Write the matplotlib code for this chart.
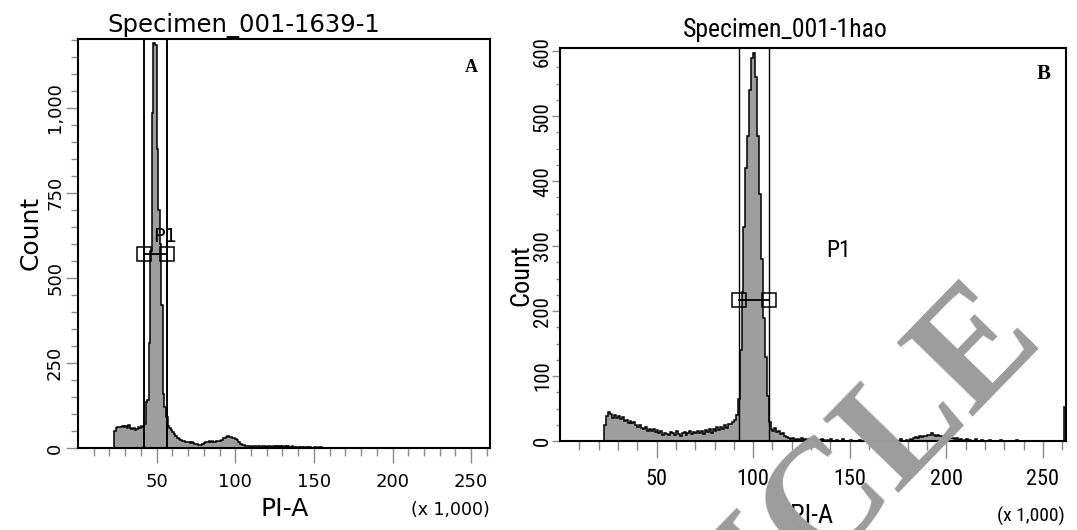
import numpy as np
import matplotlib
matplotlib.use("Agg")
import matplotlib.pyplot as plt
from matplotlib import font_manager

W, H = 1077, 530

# ---- data (counts per 1,000-unit PI-A channel) ----
a_start = 22
a_counts = [
    0, 50, 58, 62, 63, 61, 65, 63, 66, 60,          # 22-31
    68, 58, 55, 60, 52, 55, 62, 60, 65, 63,         # 32-41
    70, 136, 141, 309, 580, 985, 1190, 1185, 880, 700,  # 42-51
    600, 420, 160, 120, 90, 65, 58, 52, 48, 42,     # 52-61
    36, 30, 27, 24, 22, 20, 18, 18, 17, 16,         # 62-71
    17, 16, 13, 11, 10, 9, 9, 11, 14, 19,           # 72-81
    17, 20, 18, 21, 19, 17, 20, 22, 21, 25,         # 82-91
    28, 30, 32, 35, 31, 33, 29, 30, 27, 24,         # 92-101
    18, 12, 10, 8, 6, 7, 5, 6, 4, 7,                # 102-111
    5, 6, 5, 7, 4, 6, 5, 3, 6, 5,                   # 112-121
    6, 4, 5, 3, 6, 4, 5, 3, 5, 6,                   # 122-131
    3, 5, 2, 4, 5, 2, 3, 4, 2, 0,                   # 132-141
    3, 0, 4, 2, 0, 3, 0, 0, 2, 3,                   # 142-151
    0, 2, 3, 0,                                     # 152-155
]

b_start = 22
b_counts = [
    0, 25, 38, 45, 42, 36, 40, 35, 39, 34,          # 22-31
    37, 31, 33, 28, 31, 27, 29, 24, 22, 25,         # 32-41
    20, 18, 21, 16, 19, 15, 18, 14, 17, 12,         # 42-51
    15, 10, 13, 11, 9, 14, 12, 10, 15, 11,          # 52-61
    8, 12, 14, 9, 13, 15, 11, 14, 12, 16,           # 62-71
    13, 15, 11, 17, 14, 19, 13, 18, 16, 22,         # 72-81
    17, 21, 19, 24, 20, 26, 26, 30, 33, 40,         # 82-91
    65, 140, 230, 330, 420, 470, 540, 590, 597, 560,  # 92-101
    470, 380, 280, 190, 130, 70, 30, 18, 15, 20,    # 102-111
    14, 16, 11, 13, 7, 6, 5, 3, 4, 2,               # 112-121
    3, 3, 2, 4, 2, 3, 2, 3, 1, 2,                   # 122-131
    3, 0, 2, 3, 1, 0, 2, 0, 3, 0,                   # 132-141
    0, 2, 0, 0, 3, 0, 0, 0, 2, 0,                   # 142-151
    0, 0, 0, 2, 0, 0, 0, 0, 0, 2,                   # 152-161
    0, 0, 0, 0, 2, 0, 0, 0, 0, 0,                   # 162-171
    2, 0, 0, 0, 3, 0, 0, 2, 0, 3,                   # 172-181
    2, 4, 6, 5, 7, 6, 8, 7, 9, 10,                  # 182-191
    12, 9, 8, 10, 7, 8, 6, 7, 5, 6,                 # 192-201
    4, 5, 3, 4, 2, 3, 0, 2, 3, 0,                   # 202-211
    2, 0, 0, 3, 0, 0, 2, 0, 0, 0,                   # 212-221
    2, 0, 0, 0, 0, 0, 2, 0, 0, 0,                   # 222-231
    0, 0, 0, 0, 2, 0, 0, 0, 0, 0,                   # 232-241
    0, 0, 0, 0, 0, 0, 0, 0, 0, 0,                   # 242-251
    0, 0, 0, 0, 0, 0, 0, 0, 0, 53,                  # 252-261
]

a_gate = [42.0, 56.5]
a_bar_y = 570
b_gate = [92.6, 108.3]
b_bar_y = 217

x_ticks = [50, 100, 150, 200, 250]
a_yticks = [0, 250, 500, 750, 1000]
a_ylabels = ["0", "250", "500", "750", "1,000"]
b_yticks = [0, 100, 200, 300, 400, 500, 600]
b_ylabels = ["0", "100", "200", "300", "400", "500", "600"]

# ---- fonts: look for a condensed sans for panel B ----
flist = font_manager.fontManager.ttflist
names = {f.name for f in flist}
NARROW, STRETCH = "Roboto", "normal"
for cand in ["Liberation Sans Narrow", "Roboto Condensed", "Open Sans Condensed",
             "Noto Sans Condensed", "DejaVu Sans Condensed", "Arial Narrow"]:
    if cand in names:
        NARROW = cand
        break
else:
    for fam in ["DejaVu Sans", "Noto Sans", "Open Sans", "Roboto"]:
        if any(f.name == fam and "condensed" in str(f.stretch) for f in flist):
            NARROW, STRETCH = fam, "condensed"
            break
SERIF = "Liberation Serif" if "Liberation Serif" in names else "DejaVu Serif"
SANS = "DejaVu Sans"

FILL = "#9e9e9e"
TICK = "#8a8a8a"

fig = plt.figure(figsize=(W / 100, H / 100), dpi=100)


def box(x0, y0, x1, y1):
    return [x0 / W, 1 - y1 / H, (x1 - x0) / W, (y1 - y0) / H]


def fx(px):
    return px / W


def fy(py):
    return 1 - py / H


def panel(ax, start, counts, ylim, yticks, ylabels, yminor, gate, bar_y,
          font, stretch, xfs, yfs, xlen, ylen, xpad, ypad, glw):
    edges = start + np.arange(len(counts) + 1)
    ax.stairs(counts, edges, fill=True, color=FILL, zorder=1)
    ax.stairs(counts, edges, color="black", lw=1.1, zorder=2)
    for g in gate:
        ax.axvline(g, color="black", lw=glw, zorder=3)
    ax.plot(gate, [bar_y, bar_y], color="black", lw=1.3, marker="s", ms=9.5,
            mfc="none", mec="black", mew=1.1, zorder=4)
    ax.set_xlim(0, 262)
    ax.set_ylim(*ylim)
    ax.set_xticks(x_ticks)
    ax.set_xticks(np.arange(10, 262, 10), minor=True)
    ax.set_yticks(yticks, ylabels)
    ax.set_yticks(np.arange(0, ylim[1], yminor), minor=True)
    ax.tick_params(axis="x", which="major", length=xlen, width=1, color=TICK, pad=xpad)
    ax.tick_params(axis="x", which="minor", length=xlen * 0.55, width=1, color=TICK)
    ax.tick_params(axis="y", which="major", length=ylen, width=1, color=TICK, pad=ypad,
                   labelrotation=90)
    ax.tick_params(axis="y", which="minor", length=ylen * 0.55, width=1, color=TICK)
    for lab in ax.get_xticklabels():
        lab.set_fontfamily(font)
        lab.set_fontstretch(stretch)
        lab.set_fontsize(xfs)
    for lab in ax.get_yticklabels():
        lab.set_fontfamily(font)
        lab.set_fontstretch(stretch)
        lab.set_fontsize(yfs)
        lab.set_va("center")
    for s in ax.spines.values():
        s.set_linewidth(1.5)


axA = fig.add_axes(box(78, 39, 490, 448))
panel(axA, a_start, a_counts, (0, 1203), a_yticks, a_ylabels, 50, a_gate, a_bar_y,
      SANS, "normal", 13, 13, 11, 9, 7, 1, 1.4)
axA.text(47.7, 606, "P1", fontsize=14, family=SANS, va="baseline", zorder=5)
axA.text(0.955, 0.93, "A", transform=axA.transAxes, fontsize=13, fontweight="bold",
         family=SERIF, ha="center", va="center")

axB = fig.add_axes(box(560, 48, 1066, 441))
panel(axB, b_start, b_counts, (0, 605), b_yticks, b_ylabels, 25, b_gate, b_bar_y,
      NARROW, STRETCH, 16, 15, 12, 5.5, 8, 0.3, 1.0)
axB.text(138, 283, "P1", fontsize=17, family=NARROW, stretch=STRETCH,
         va="baseline", zorder=5)
axB.text(0.955, 0.935, "B", transform=axB.transAxes, fontsize=15, fontweight="bold",
         family=SERIF, ha="center", va="center")

# titles and axis labels
fig.text(fx(244), fy(32), "Specimen_001-1639-1", fontsize=17.5, family=SANS,
         ha="center", va="baseline")
fig.text(fx(785), fy(37), "Specimen_001-1hao", fontsize=18.5, family=NARROW,
         stretch=STRETCH, ha="center", va="baseline")
fig.text(fx(31), fy(233), "Count", fontsize=18, family=SANS, rotation=90,
         ha="center", va="center")
fig.text(fx(521), fy(275), "Count", fontsize=19, family=NARROW, stretch=STRETCH,
         rotation=90, ha="center", va="center")
fig.text(fx(285), fy(516), "PI-A", fontsize=18, family=SANS, ha="center", va="baseline")
fig.text(fx(812), fy(523), "PI-A", fontsize=19, family=NARROW, stretch=STRETCH,
         ha="center", va="baseline")
fig.text(fx(490), fy(515), "(x 1,000)", fontsize=12.5, family=SANS, ha="right",
         va="baseline")
fig.text(fx(1065), fy(522), "(x 1,000)", fontsize=14, family=NARROW, stretch=STRETCH,
         ha="right", va="baseline")

# watermark
fig.text(fx(1046), fy(342), "RETRACTED ARTICLE", rotation=45.8, rotation_mode="anchor",
         ha="right", va="baseline", fontsize=115, fontweight="bold", family=SERIF,
         color="#9c9c9c", zorder=10)

fig.savefig("out.png", dpi=100)
